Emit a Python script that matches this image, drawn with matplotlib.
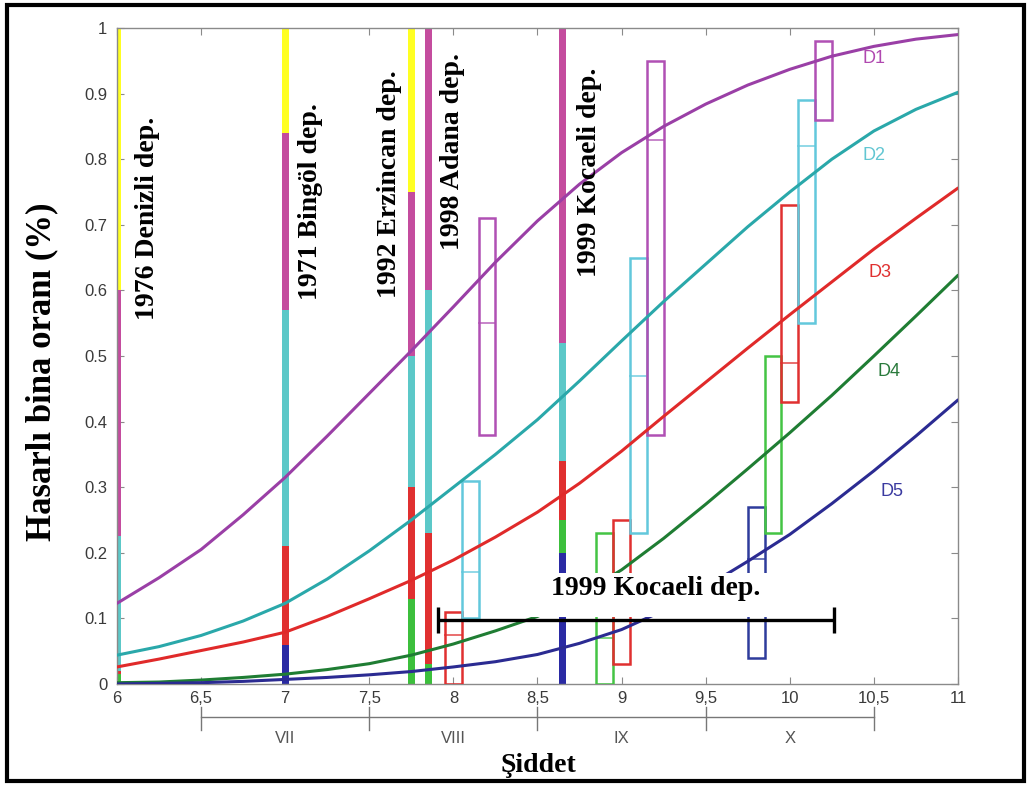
import matplotlib
matplotlib.use("Agg")
import matplotlib.pyplot as plt
from matplotlib.patches import Rectangle

# ---------------- data ----------------
intensity = [6.0, 6.25, 6.5, 6.75, 7.0, 7.25, 7.5, 7.75, 8.0, 8.25, 8.5,
             8.75, 9.0, 9.25, 9.5, 9.75, 10.0, 10.25, 10.5, 10.75, 11.0]
d1_curve = [0.123, 0.162, 0.205, 0.258, 0.315, 0.378, 0.443, 0.508, 0.575, 0.643, 0.706,
            0.762, 0.810, 0.850, 0.884, 0.913, 0.937, 0.957, 0.972, 0.983, 0.990]
d2_curve = [0.044, 0.057, 0.074, 0.096, 0.123, 0.160, 0.203, 0.250, 0.300, 0.350, 0.403,
            0.462, 0.523, 0.583, 0.640, 0.697, 0.750, 0.800, 0.843, 0.876, 0.902]
d3_curve = [0.026, 0.038, 0.051, 0.064, 0.079, 0.103, 0.130, 0.158, 0.189, 0.224, 0.262,
            0.306, 0.355, 0.408, 0.460, 0.512, 0.563, 0.613, 0.663, 0.710, 0.756]
d4_curve = [0.002, 0.003, 0.006, 0.010, 0.015, 0.022, 0.031, 0.044, 0.061, 0.081, 0.103,
            0.135, 0.174, 0.222, 0.274, 0.328, 0.383, 0.440, 0.500, 0.561, 0.623]
d5_curve = [0.000, 0.001, 0.002, 0.004, 0.007, 0.010, 0.014, 0.019, 0.026, 0.034, 0.045,
            0.062, 0.083, 0.112, 0.148, 0.187, 0.228, 0.275, 0.325, 0.378, 0.433]
curve_names = ["D1", "D2", "D3", "D4", "D5"]

# observed earthquakes: intensity and cumulative ratios (D5, D4, D3, D2, D1)
event_names = ["1976 Denizli dep.", "1971 Bingöl dep.", "1992 Erzincan dep.",
               "1998 Adana dep.", "1999 Kocaeli dep."]
event_x = [6.0, 7.0, 7.75, 7.85, 8.65]
event_cum = [
    [0.00, 0.015, 0.02, 0.225, 0.60],
    [0.06, 0.06, 0.21, 0.57, 0.84],
    [0.00, 0.13, 0.30, 0.50, 0.75],
    [0.00, 0.03, 0.23, 0.60, 1.00],
    [0.20, 0.25, 0.34, 0.52, 1.00],
]

# damage range boxes: centre intensity, state, low, high, median
box_x = [8.0, 8.1, 8.2, 8.9, 9.0, 9.1, 9.2, 9.8, 9.9, 10.0, 10.1, 10.2]
box_state = ["D3", "D2", "D1", "D4", "D3", "D2", "D1", "D5", "D4", "D3", "D2", "D1"]
box_low = [0.00, 0.10, 0.38, 0.00, 0.03, 0.23, 0.38, 0.04, 0.23, 0.43, 0.55, 0.86]
box_high = [0.11, 0.31, 0.71, 0.23, 0.25, 0.65, 0.95, 0.27, 0.50, 0.73, 0.89, 0.98]
box_med = [0.075, 0.17, 0.55, 0.07, 0.13, 0.47, 0.83, 0.19, None, 0.49, 0.82, None]

kocaeli_range = [7.91, 10.26]
kocaeli_level = 0.098

xticks = [6, 6.5, 7, 7.5, 8, 8.5, 9, 9.5, 10, 10.5, 11]
xtick_labels = ["6", "6,5", "7", "7,5", "8", "8,5", "9", "9,5", "10", "10,5", "11"]
yticks = [0, 0.1, 0.2, 0.3, 0.4, 0.5, 0.6, 0.7, 0.8, 0.9, 1]
ytick_labels = ["0", "0.1", "0.2", "0.3", "0.4", "0.5", "0.6", "0.7", "0.8", "0.9", "1"]
roman_edges = [6.5, 7.5, 8.5, 9.5, 10.5]
roman_labels = ["VII", "VIII", "IX", "X"]

# ---------------- styles ----------------
curve_colors = {"D1": "#9a3fa6", "D2": "#2aa8aa", "D3": "#e02a2a", "D4": "#1f7d33", "D5": "#2b2b92"}
label_colors = {"D1": "#b048b0", "D2": "#62c6d2", "D3": "#e03030", "D4": "#2a7a3c", "D5": "#3a3aa0"}
box_colors = {"D1": "#b050b4", "D2": "#62c8dc", "D3": "#e03030", "D4": "#44c444", "D5": "#2e3c9c"}
bar_colors = ["#2a2aa4", "#3cbf3c", "#e03030", "#5cc8c8", "#c44c9e", "#ffff22"]
label_pos = {"D1": (10.435, 0.953), "D2": (10.435, 0.806), "D3": (10.465, 0.628),
             "D4": (10.52, 0.476), "D5": (10.54, 0.293)}
event_text_pos = [(6.184, 0.555), (7.153, 0.585), (7.623, 0.588), (7.992, 0.662), (8.812, 0.620)]

serif = ["Liberation Serif", "DejaVu Serif"]
sans = ["Liberation Sans", "DejaVu Sans"]

fig = plt.figure(figsize=(10.32, 7.86), dpi=100)
ax = fig.add_axes([117 / 1032, 1 - 684 / 786, (958 - 117) / 1032, (684 - 28) / 786])
ax.set_xlim(6, 11)
ax.set_ylim(0, 1)

# stacked observation bars
for x, cum in zip(event_x, event_cum):
    edges = [0.0] + list(cum) + [1.0]
    for i in range(6):
        h = edges[i + 1] - edges[i]
        if h > 0:
            ax.bar(x, h, bottom=edges[i], width=0.042, color=bar_colors[i],
                   linewidth=0, zorder=2)

# damage range boxes
for cx, st, lo, hi, md in zip(box_x, box_state, box_low, box_high, box_med):
    c = box_colors[st]
    ax.add_patch(Rectangle((cx - 0.05, lo), 0.1, hi - lo, fill=False, ec=c, lw=1.8, zorder=3))
    if md is not None:
        ax.plot([cx - 0.05, cx + 0.05], [md, md], color=c, lw=1.4, alpha=0.7, zorder=3)

# fragility curves
for name, vals in zip(curve_names, [d1_curve, d2_curve, d3_curve, d4_curve, d5_curve]):
    ax.plot(intensity, vals, color=curve_colors[name], lw=2.2, zorder=4,
            solid_capstyle="round", solid_joinstyle="round")
    lx, ly = label_pos[name]
    ax.text(lx, ly, name, color=label_colors[name], fontsize=13, family=sans,
            ha="left", va="center", zorder=5)

# event names along the bars
for (tx, ty), name in zip(event_text_pos, event_names):
    ax.text(tx, ty, name, rotation=90, ha="center", va="bottom", family=serif,
            fontweight="bold", fontsize=20, zorder=5)

# Kocaeli intensity range
ax.add_patch(Rectangle((8.455, 0.102), 1.457, 0.067, fc="white", ec="none", zorder=6))
ax.text(9.2, 0.146, "1999 Kocaeli dep.", ha="center", va="center", family=serif,
        fontweight="bold", fontsize=20, zorder=7)
mid = (kocaeli_range[0] + kocaeli_range[1]) / 2
half = (kocaeli_range[1] - kocaeli_range[0]) / 2
ax.errorbar([mid], [kocaeli_level], xerr=[half], fmt="none", ecolor="black",
            elinewidth=2.4, capsize=9.5, capthick=2.4, zorder=8)

# axes styling
for sp in ax.spines.values():
    sp.set_color("#8a8a8a")
    sp.set_linewidth(1.0)
ax.set_xticks(xticks)
ax.set_xticklabels(xtick_labels)
ax.set_yticks(yticks)
ax.set_yticklabels(ytick_labels)
ax.tick_params(direction="in", top=True, right=True, length=5, width=0.8,
               color="#8a8a8a", labelcolor="#3a3a3a", labelsize=12)
ax.tick_params(axis="x", pad=5)
ax.tick_params(axis="y", pad=7)
for lab in ax.get_xticklabels() + ax.get_yticklabels():
    lab.set_family(sans)

# intensity scale (Roman numerals)
tr = ax.get_xaxis_transform()
ax.plot([roman_edges[0], roman_edges[-1]], [-0.0503, -0.0503], color="#777777",
        lw=1.0, transform=tr, clip_on=False)
for e in roman_edges:
    ax.plot([e, e], [-0.035, -0.070], color="#777777", lw=1.0, transform=tr, clip_on=False)
for a, b, lab in zip(roman_edges[:-1], roman_edges[1:], roman_labels):
    ax.text((a + b) / 2, -0.083, lab, transform=tr, ha="center", va="center",
            color="#555555", fontsize=12, family=sans)

# axis titles
fig.text(42 / 1032, 1 - 372 / 786, "Hasarlı bina oranı (%)", rotation=90, ha="center",
         va="center", family=serif, fontweight="bold", fontsize=25)
fig.text(538 / 1032, 1 - 766 / 786, "Şiddet", ha="center", va="center", family=serif,
         fontweight="bold", fontsize=20)

# outer frame
fig.add_artist(Rectangle((7 / 1032, 5 / 786), (1024 - 7) / 1032, (781 - 5) / 786,
                         transform=fig.transFigure, fill=False, ec="black", lw=3))

fig.savefig("out.png", dpi=100, facecolor="white")
